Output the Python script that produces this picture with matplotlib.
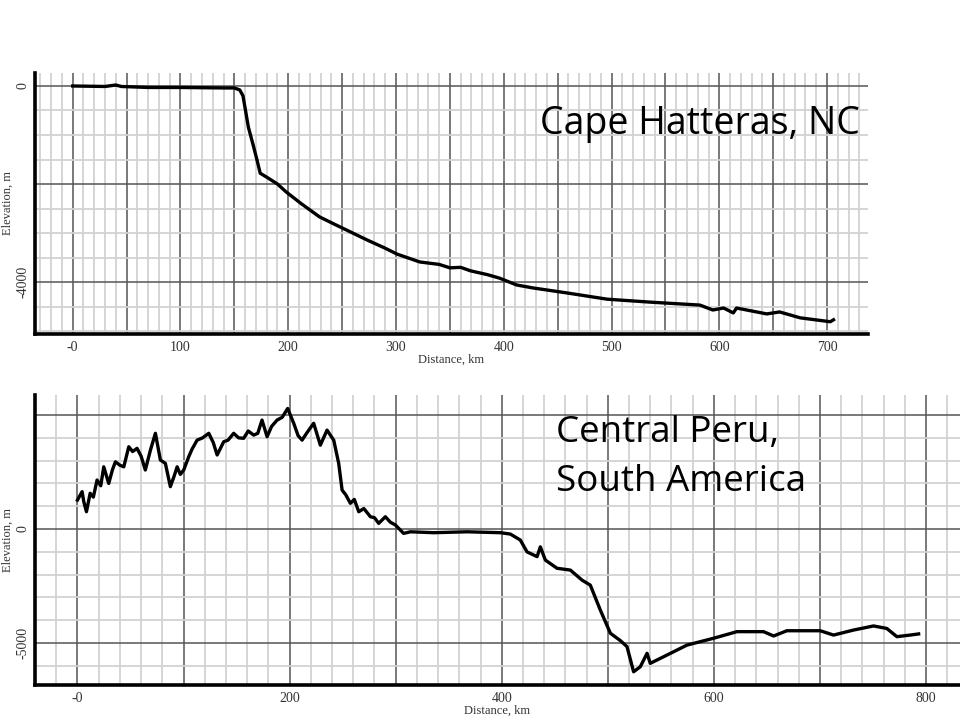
import matplotlib
matplotlib.use("Agg")
from matplotlib import pyplot as plt
from matplotlib.ticker import MultipleLocator, FuncFormatter

# Cape Hatteras profile (km, m)
hatterasDist = [0, 30, 40, 45, 70, 100, 140, 150, 155, 158, 163, 168, 171, 174, 180, 190, 198,
                212, 229, 241, 257, 273, 290, 301, 322, 340, 350, 360, 369, 385, 396, 412, 427,
                458, 496, 536, 582, 594, 604, 613, 616, 644, 656, 675, 703, 706]
hatterasElev = [0, -10, 20, -10, -30, -30, -40, -40, -80, -200, -840, -1250, -1510, -1780, -1860,
                -2000, -2160, -2400, -2670, -2800, -2970, -3140, -3310, -3430, -3590, -3640, -3710,
                -3700, -3770, -3850, -3920, -4060, -4120, -4220, -4350, -4410, -4470, -4570, -4530,
                -4630, -4530, -4650, -4610, -4730, -4810, -4770]

# Central Peru profile (km, m)
peruDist = [0, 4.4, 6, 8.5, 12, 15, 18.5, 22, 24.8, 29.5, 33, 35.8, 40, 43.7, 48.4, 52, 56.2, 60,
            64, 68.8, 73.5, 78.2, 82.9, 87.6, 91, 94, 97, 100.2, 104.9, 108, 112.8, 118, 123.8,
            128, 131.7, 137.9, 142, 147.3, 152, 156.7, 161, 166.2, 170, 174, 178.8, 183, 188.2,
            193, 198.2, 203.9, 208, 211.8, 216, 222.7, 229, 235.3, 241.6, 246.3, 249.5, 253,
            257.3, 261, 265.2, 270, 276.2, 280, 284, 290.3, 295, 299.7, 307.5, 313.9, 335.8,
            367.3, 398.7, 408.1, 417.5, 423.8, 433.3, 436.4, 441.1, 452.1, 464.7, 475.7, 483.5,
            492.9, 502.4, 512, 518.1, 524.3, 530.6, 537, 540, 552.6, 574.6, 599.7, 621.7, 646.8,
            656.3, 668.8, 700.2, 712.8, 731.6, 750.5, 763, 772.5, 785, 793]
peruElev = [1270, 1640, 1200, 760, 1570, 1400, 2150, 1900, 2730, 2000, 2600, 2950, 2800, 2730,
            3610, 3400, 3540, 3200, 2590, 3460, 4200, 3030, 2880, 1860, 2300, 2730, 2400, 2590,
            3170, 3500, 3900, 4000, 4200, 3800, 3250, 3830, 3900, 4200, 4000, 3980, 4300, 4120,
            4200, 4780, 4050, 4500, 4780, 4900, 5290, 4640, 4100, 3900, 4200, 4640, 3680, 4340,
            3900, 2880, 1710, 1500, 1130, 1300, 760, 900, 540, 500, 250, 540, 300, 180, -190,
            -120, -160, -120, -160, -220, -480, -1000, -1210, -780, -1360, -1720, -1800, -2240,
            -2460, -3550, -4570, -4900, -5160, -6260, -6040, -5450, -5890, -5600, -5090, -4790,
            -4500, -4500, -4690, -4460, -4460, -4650, -4430, -4250, -4360, -4720, -4650, -4600]

serif = "Liberation Serif"


def styleAxes(ax, xMajor, xMinor, xLabelStep, yMajor, yMinor, yLabels):
    ax.xaxis.set_major_locator(MultipleLocator(xMajor))
    ax.xaxis.set_minor_locator(MultipleLocator(xMinor))
    ax.yaxis.set_major_locator(MultipleLocator(yMajor))
    ax.yaxis.set_minor_locator(MultipleLocator(yMinor))

    def xfmt(v, pos):
        v = int(round(v))
        if v % xLabelStep != 0 or v < 0:
            return ""
        return "-0" if v == 0 else str(v)

    def yfmt(v, pos):
        v = int(round(v))
        return str(v) if v in yLabels else ""

    ax.xaxis.set_major_formatter(FuncFormatter(xfmt))
    ax.yaxis.set_major_formatter(FuncFormatter(yfmt))
    ax.grid(which="minor", color="#d2d2d2", linewidth=1.3)
    ax.grid(which="major", color="#555555", linewidth=1.1)
    ax.set_axisbelow(True)
    ax.tick_params(which="both", length=0)
    ax.tick_params(axis="x", pad=5, labelsize=10, labelcolor="#333333")
    ax.tick_params(axis="y", pad=4, labelsize=10, labelcolor="#333333")
    for lbl in ax.get_xticklabels() + ax.get_yticklabels():
        lbl.set_family(serif)
    for lbl in ax.get_yticklabels():
        lbl.set_rotation(90)
        lbl.set_va("center")
    for side in ["top", "right"]:
        ax.spines[side].set_visible(False)
    for side in ["left", "bottom"]:
        ax.spines[side].set_linewidth(2.6)
        ax.spines[side].set_color("black")
    ax.set_xlabel("Distance, km", family=serif, fontsize=9, labelpad=0, color="#333333")
    ax.set_ylabel("Elevation, m", family=serif, fontsize=9, labelpad=2, color="#333333")


fig = plt.figure(figsize=(9.6, 7.2), dpi=100)

ax1 = fig.add_axes([35 / 960, 1 - 334 / 720, 833 / 960, 261 / 720])
ax1.plot(hatterasDist, hatterasElev, color="black", linewidth=2.4)
ax1.set_xlim(-35, 738)
ax1.set_ylim(-5060, 265)
styleAxes(ax1, 50, 10, 100, 2000, 500, [0, -4000])
ax1.text(540 / 960, 1 - 134 / 720, "Cape Hatteras, NC", transform=fig.transFigure,
         family="Open Sans", fontsize=27, color="black", ha="left", va="baseline")

ax2 = fig.add_axes([35 / 960, 1 - 685 / 720, 925 / 960, 290 / 720])
ax2.plot(peruDist, peruElev, color="black", linewidth=2.4)
ax2.set_xlim(-40, 832)
ax2.set_ylim(-6840, 5880)
styleAxes(ax2, 100, 20, 200, 5000, 1000, [0, -5000])
ax2.text(556 / 960, 1 - 442 / 720, "Central Peru,", transform=fig.transFigure,
         family="Open Sans", fontsize=26.5, color="black", ha="left", va="baseline")
ax2.text(556 / 960, 1 - 491 / 720, "South America", transform=fig.transFigure,
         family="Open Sans", fontsize=26.5, color="black", ha="left", va="baseline")

fig.savefig("out.png", dpi=100, facecolor="white")
